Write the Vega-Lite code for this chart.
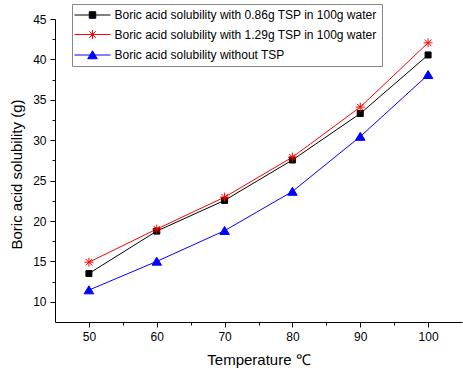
{
  "$schema": "https://vega.github.io/schema/vega-lite/v6.json",
  "width": 407,
  "height": 303,
  "autosize": "none",
  "padding": {"left": 55, "top": 19, "right": 1, "bottom": 49},
  "background": "white",
  "config": {
    "view": {"stroke": null},
    "font": "Liberation Sans",
    "axis": {
      "grid": false,
      "domainColor": "#000000",
      "tickColor": "#000000",
      "labelColor": "#000000",
      "titleColor": "#000000",
      "labelFont": "Liberation Sans",
      "titleFont": "Liberation Sans",
      "labelFontSize": 12,
      "titleFontSize": 15,
      "titleFontWeight": "normal",
      "labelFlush": false
    },
    "legend": {
      "orient": "none",
      "legendX": 17,
      "legendY": -15,
      "direction": "vertical",
      "padding": 5,
      "strokeColor": "#888888",
      "fillColor": "white",
      "symbolSize": 100,
      "symbolOffset": 9.5,
      "labelOffset": 16,
      "labelFont": "Liberation Sans",
      "labelFontSize": 12,
      "labelColor": "#000000",
      "labelLimit": 400,
      "rowPadding": 6.5,
      "symbolStrokeWidth": 1
    }
  },
  "data": {
    "values": [
      {"series": "Boric acid solubility with 0.86g TSP in 100g water", "temp": 50, "value": 13.5},
      {"series": "Boric acid solubility with 0.86g TSP in 100g water", "temp": 60, "value": 18.75},
      {"series": "Boric acid solubility with 0.86g TSP in 100g water", "temp": 70, "value": 22.55},
      {"series": "Boric acid solubility with 0.86g TSP in 100g water", "temp": 80, "value": 27.55},
      {"series": "Boric acid solubility with 0.86g TSP in 100g water", "temp": 90, "value": 33.3},
      {"series": "Boric acid solubility with 0.86g TSP in 100g water", "temp": 100, "value": 40.55},
      {"series": "Boric acid solubility with 1.29g TSP in 100g water", "temp": 50, "value": 14.9},
      {"series": "Boric acid solubility with 1.29g TSP in 100g water", "temp": 60, "value": 19.0},
      {"series": "Boric acid solubility with 1.29g TSP in 100g water", "temp": 70, "value": 22.95},
      {"series": "Boric acid solubility with 1.29g TSP in 100g water", "temp": 80, "value": 27.9},
      {"series": "Boric acid solubility with 1.29g TSP in 100g water", "temp": 90, "value": 34.1},
      {"series": "Boric acid solubility with 1.29g TSP in 100g water", "temp": 100, "value": 42.05},
      {"series": "Boric acid solubility without TSP", "temp": 50, "value": 11.45},
      {"series": "Boric acid solubility without TSP", "temp": 60, "value": 15.0},
      {"series": "Boric acid solubility without TSP", "temp": 70, "value": 18.8},
      {"series": "Boric acid solubility without TSP", "temp": 80, "value": 23.65},
      {"series": "Boric acid solubility without TSP", "temp": 90, "value": 30.45},
      {"series": "Boric acid solubility without TSP", "temp": 100, "value": 38.1}
    ]
  },
  "encoding": {
    "x": {
      "field": "temp",
      "type": "quantitative",
      "scale": {"domain": [45, 105], "nice": false, "zero": false},
      "axis": {
        "title": "Temperature ℃",
        "values": [50, 55, 60, 65, 70, 75, 80, 85, 90, 95, 100],
        "labelExpr": "datum.value % 10 === 0 ? datum.label : ''",
        "tickSize": {"condition": {"test": "datum.value % 10 === 0", "value": 5}, "value": 3},
        "labelPadding": 4,
        "titlePadding": 10
      }
    },
    "y": {
      "field": "value",
      "type": "quantitative",
      "scale": {"domain": [7.5, 45], "nice": false, "zero": false},
      "axis": {
        "title": "Boric acid solubility (g)",
        "values": [10, 12.5, 15, 17.5, 20, 22.5, 25, 27.5, 30, 32.5, 35, 37.5, 40, 42.5, 45],
        "labelExpr": "datum.value % 5 === 0 ? datum.label : ''",
        "tickSize": {"condition": {"test": "datum.value % 5 === 0", "value": 5}, "value": 3},
        "labelPadding": 4,
        "titlePadding": 8,
        "titleY": 155
      }
    },
    "color": {
      "field": "series",
      "type": "nominal",
      "scale": {
        "domain": ["Boric acid solubility with 0.86g TSP in 100g water", "Boric acid solubility with 1.29g TSP in 100g water", "Boric acid solubility without TSP"],
        "range": ["#000000", "#ff0000", "#0000ff"]
      },
      "legend": {
        "title": null,
        "encode": {
          "symbols": {
            "update": {
              "shape": {"signal": "datum.index === 0 ? 'M-3.6,0H3.6M-0.65,-0.65H0.65V0.65H-0.65Z' : datum.index === 1 ? 'M-3.6,0H3.6M-0.9,0H0.9M0,-0.9V0.9M-0.65,-0.65L0.65,0.65M-0.65,0.65L0.65,-0.65' : 'M-3.6,0H3.6M0,-0.85L0.95,0.75H-0.95Z'"},
              "fill": {"signal": "datum.index === 0 ? '#000000' : datum.index === 1 ? 'transparent' : '#0000ff'"},
              "stroke": {"signal": "datum.index === 0 ? '#000000' : datum.index === 1 ? '#ff0000' : '#0000ff'"},
              "strokeWidth": {"value": 1},
              "opacity": {"value": 1}
            }
          }
        }
      }
    }
  },
  "layer": [
    {
      "mark": {"type": "line", "strokeWidth": 1}
    },
    {
      "mark": {"type": "point", "filled": false, "opacity": 1, "strokeWidth": 1, "size": 100},
      "encoding": {
        "shape": {
          "field": "series",
          "type": "nominal",
          "scale": {
            "range": ["M-0.6,-0.6H0.6V0.6H-0.6Z", "M-0.9,0H0.9M0,-0.9V0.9M-0.65,-0.65L0.65,0.65M-0.65,0.65L0.65,-0.65", "M0,-0.85L0.95,0.75H-0.95Z"]
          },
          "legend": null
        },
        "fill": {
          "field": "series",
          "type": "nominal",
          "scale": {
            "range": ["#000000", "transparent", "#0000ff"]
          },
          "legend": null
        }
      }
    }
  ]
}
